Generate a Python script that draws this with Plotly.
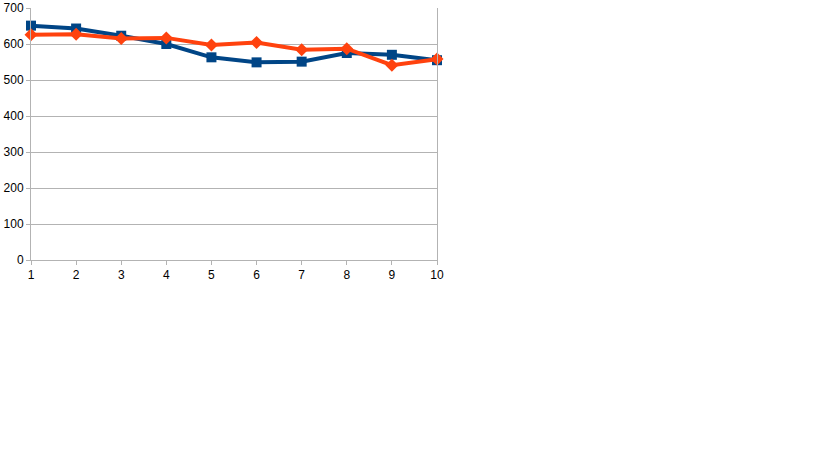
import plotly.graph_objects as go

categories = [1, 2, 3, 4, 5, 6, 7, 8, 9, 10]
series_blue = [651, 643, 623, 600, 563, 549, 551, 575, 570, 555]
series_orange = [626, 627, 615, 617, 597, 604, 584, 587, 541, 558]
y_ticks = [0, 100, 200, 300, 400, 500, 600, 700]

fig = go.Figure()
fig.add_trace(go.Scatter(
    x=categories, y=series_blue, mode="lines+markers",
    line=dict(color="#004586", width=4),
    marker=dict(symbol="square", size=10, color="#004586"),
    cliponaxis=False, showlegend=False))
fig.add_trace(go.Scatter(
    x=categories, y=series_orange, mode="lines+markers",
    line=dict(color="#ff420e", width=4),
    marker=dict(symbol="diamond", size=10, color="#ff420e"),
    cliponaxis=False, showlegend=False))

fig.update_layout(
    width=819, height=460,
    margin=dict(l=31, r=382, t=8, b=200, autoexpand=False),
    paper_bgcolor="white", plot_bgcolor="white",
    font=dict(family="Liberation Sans, Arial, sans-serif", size=12, color="black"),
    xaxis=dict(range=[1, 10], tickvals=categories, ticktext=[str(c) for c in categories],
               showgrid=False, showline=True, linecolor="#b3b3b3", linewidth=1,
               ticks="outside", ticklen=4, tickcolor="#b3b3b3", zeroline=False,
               mirror=False, automargin=False),
    yaxis=dict(range=[0, 700], tickvals=y_ticks, showgrid=True, gridcolor="#b3b3b3",
               showline=True, linecolor="#b3b3b3", linewidth=1, mirror=True,
               ticks="outside", ticklen=4, tickcolor="#b3b3b3", zeroline=False,
               automargin=False),
)

fig.write_html("out.html", config={"displayModeBar": False},
               post_script="document.body.style.margin='0';")
